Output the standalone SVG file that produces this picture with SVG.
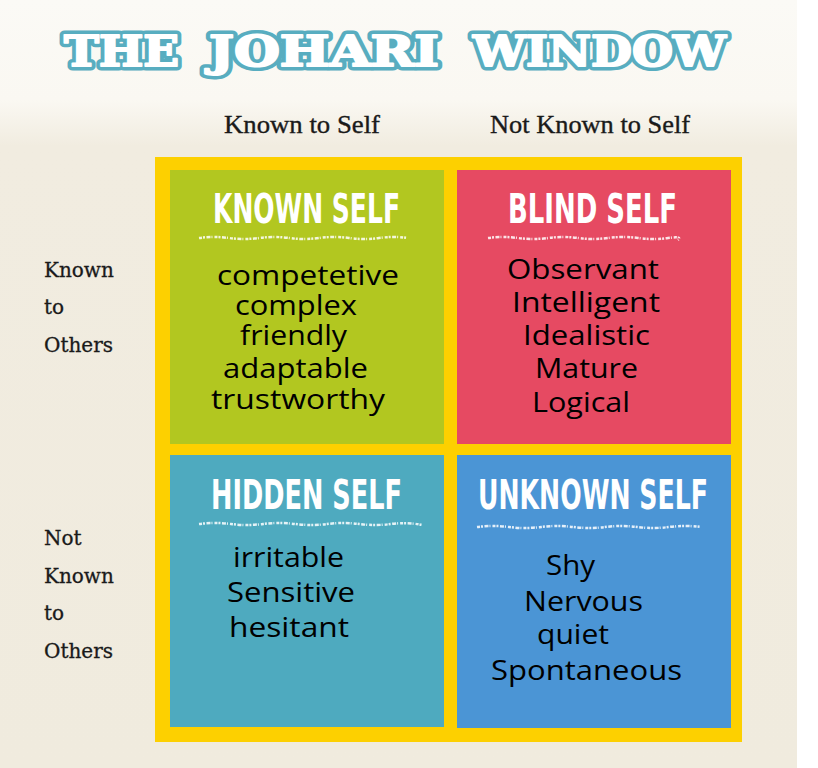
<svg xmlns="http://www.w3.org/2000/svg" width="818" height="768" viewBox="0 0 818 768">
<defs>
<linearGradient id="bg" x1="0" y1="0" x2="0" y2="1">
<stop offset="0" stop-color="#fbfaf6"/>
<stop offset="0.13" stop-color="#faf8f2"/>
<stop offset="0.19" stop-color="#f1ece0"/>
<stop offset="1" stop-color="#f0ebde"/>
</linearGradient>
<style>
.tt{font-family:"DejaVu Serif",serif;font-weight:bold;font-size:42px;stroke-linejoin:round}
.tOut{fill:#58adc0;stroke:#58adc0;stroke-width:9}
.tIn{fill:#ffffff;stroke:#ffffff;stroke-width:2}
.col{font-family:"Liberation Serif",serif;font-size:25px;fill:#1a1a1a;stroke:#1a1a1a;stroke-width:0.35}
.row{font-family:"DejaVu Serif",serif;font-size:20px;fill:#1a1a1a;stroke:#1a1a1a;stroke-width:0.3}
.hd{font-family:"DejaVu Sans Condensed","DejaVu Sans",sans-serif;font-weight:bold;font-size:40px;fill:#ffffff}
.ul{fill:none;stroke:#ffffff;stroke-width:2.5;stroke-dasharray:3 1 2 1.5 4 1 1 2;opacity:0.85}
.bd{font-family:"Open Sans",sans-serif;font-size:27px;fill:#000000}
</style>
</defs>
<rect x="0" y="0" width="818" height="768" fill="#ffffff"/>
<rect x="0" y="0" width="797" height="768" fill="url(#bg)"/>
<g id="title">
<text class="tt tOut" x="64" y="66" textLength="115" lengthAdjust="spacingAndGlyphs">THE</text>
<text class="tt tOut" x="209" y="66" textLength="230" lengthAdjust="spacingAndGlyphs">JOHARI</text>
<text class="tt tOut" x="473" y="66" textLength="253" lengthAdjust="spacingAndGlyphs">WINDOW</text>
<text class="tt tIn" x="64" y="66" textLength="115" lengthAdjust="spacingAndGlyphs">THE</text>
<text class="tt tIn" x="209" y="66" textLength="230" lengthAdjust="spacingAndGlyphs">JOHARI</text>
<text class="tt tIn" x="473" y="66" textLength="253" lengthAdjust="spacingAndGlyphs">WINDOW</text>
</g>
<g id="column-labels">
<text class="col" x="224" y="133" textLength="156" lengthAdjust="spacingAndGlyphs">Known to Self</text>
<text class="col" x="490" y="133" textLength="200" lengthAdjust="spacingAndGlyphs">Not Known to Self</text>
</g>
<g id="row-labels">
<text class="row" x="44" y="277">Known</text>
<text class="row" x="44" y="314">to</text>
<text class="row" x="44" y="352">Others</text>
<text class="row" x="44" y="545">Not</text>
<text class="row" x="44" y="583">Known</text>
<text class="row" x="44" y="620">to</text>
<text class="row" x="44" y="658">Others</text>
</g>
<rect id="frame" x="155" y="157" width="587" height="585" fill="#fdd000"/>
<g id="known-self">
<rect x="170" y="170" width="274" height="274" fill="#b2c720"/>
<text class="hd" x="213" y="223" textLength="187" lengthAdjust="spacingAndGlyphs">KNOWN SELF</text>
<path class="ul" d="M199 238 q15 -2 30 0 t30 0 t30 0 t30 0 t30 0 t30 0 t28 0"/>
<text class="bd" x="217" y="285" textLength="182" lengthAdjust="spacingAndGlyphs">competetive</text>
<text class="bd" x="235" y="315" textLength="122" lengthAdjust="spacingAndGlyphs">complex</text>
<text class="bd" x="240" y="345" textLength="107" lengthAdjust="spacingAndGlyphs">friendly</text>
<text class="bd" x="223" y="378" textLength="145" lengthAdjust="spacingAndGlyphs">adaptable</text>
<text class="bd" x="211" y="409" textLength="174" lengthAdjust="spacingAndGlyphs">trustworthy</text>
</g>
<g id="blind-self">
<rect x="457" y="170" width="274" height="274" fill="#e64a62"/>
<text class="hd" x="508" y="223" textLength="169" lengthAdjust="spacingAndGlyphs">BLIND SELF</text>
<path class="ul" d="M488 238 q15 -2 30 0 t30 0 t30 0 t30 0 t30 0 t30 0 t10 2"/>
<text class="bd" x="507" y="279" textLength="152" lengthAdjust="spacingAndGlyphs">Observant</text>
<text class="bd" x="512" y="312" textLength="148" lengthAdjust="spacingAndGlyphs">Intelligent</text>
<text class="bd" x="523" y="345" textLength="127" lengthAdjust="spacingAndGlyphs">Idealistic</text>
<text class="bd" x="535" y="378" textLength="103" lengthAdjust="spacingAndGlyphs">Mature</text>
<text class="bd" x="532" y="412" textLength="98" lengthAdjust="spacingAndGlyphs">Logical</text>
</g>
<g id="hidden-self">
<rect x="170" y="455" width="274" height="272" fill="#4eaabf"/>
<text class="hd" x="211" y="509" textLength="191" lengthAdjust="spacingAndGlyphs">HIDDEN SELF</text>
<path class="ul" d="M199 524 q16 -2 32 0 t32 0 t32 0 t32 0 t32 0 t32 0 t32 1"/>
<text class="bd" x="233" y="567" textLength="111" lengthAdjust="spacingAndGlyphs">irritable</text>
<text class="bd" x="227" y="602" textLength="128" lengthAdjust="spacingAndGlyphs">Sensitive</text>
<text class="bd" x="229" y="637" textLength="120" lengthAdjust="spacingAndGlyphs">hesitant</text>
</g>
<g id="unknown-self">
<rect x="457" y="455" width="274" height="273" fill="#4b95d5"/>
<text class="hd" x="478" y="509" textLength="230" lengthAdjust="spacingAndGlyphs">UNKNOWN SELF</text>
<path class="ul" d="M477 527 q16 -2 32 0 t32 0 t32 0 t32 0 t32 0 t32 0 t32 0"/>
<text class="bd" x="546" y="575" textLength="49" lengthAdjust="spacingAndGlyphs">Shy</text>
<text class="bd" x="524" y="611" textLength="119" lengthAdjust="spacingAndGlyphs">Nervous</text>
<text class="bd" x="537" y="644" textLength="72" lengthAdjust="spacingAndGlyphs">quiet</text>
<text class="bd" x="491" y="680" textLength="191" lengthAdjust="spacingAndGlyphs">Spontaneous</text>
</g>
</svg>
